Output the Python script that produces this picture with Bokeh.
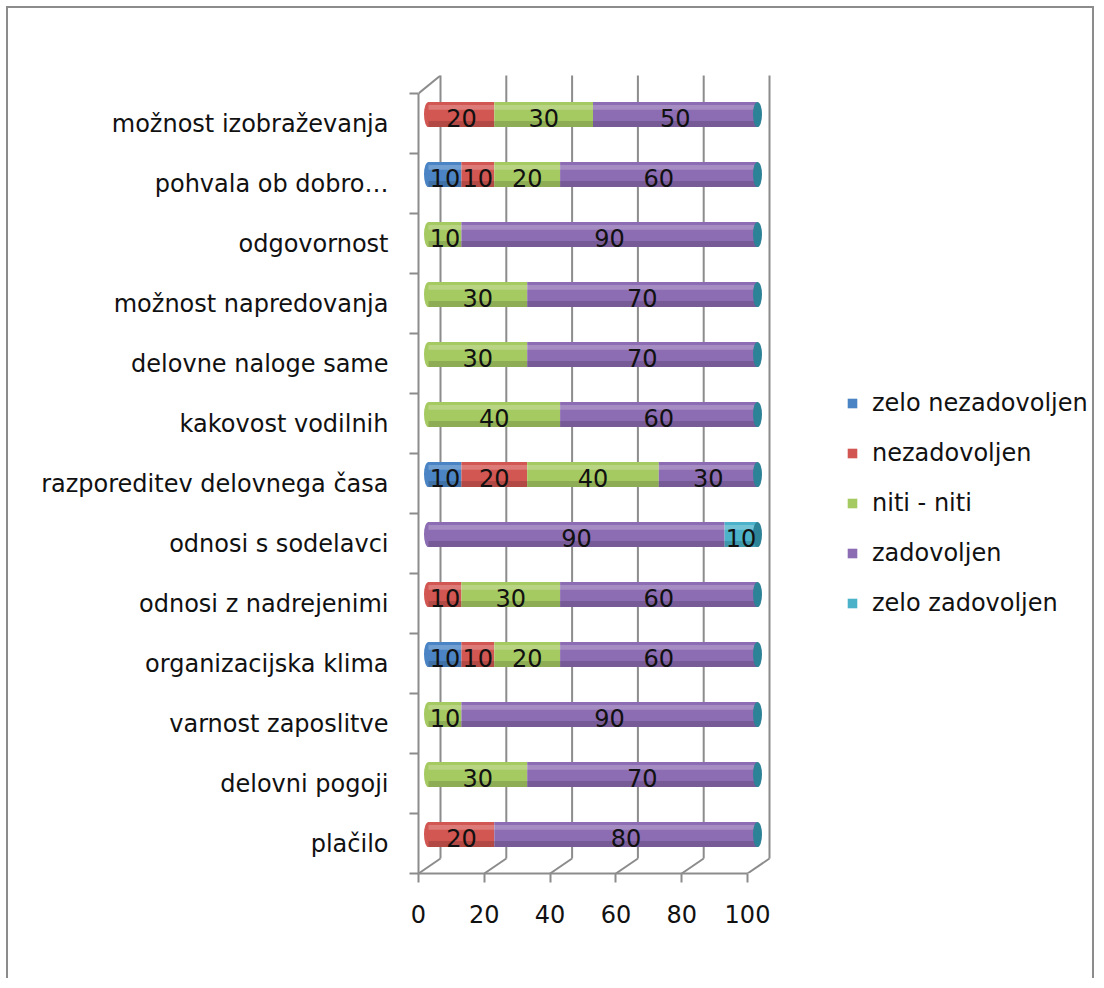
from bokeh.plotting import figure
from bokeh.models import Range1d, FixedTicker, Legend, LegendItem
from bokeh.core.properties import value
from bokeh.embed import file_html
from bokeh.resources import INLINE

# ---------------- data ----------------
categories = ["plačilo", "delovni pogoji", "varnost zaposlitve", "organizacijska klima",
              "odnosi z nadrejenimi", "odnosi s sodelavci", "razporeditev delovnega časa",
              "kakovost vodilnih", "delovne naloge same", "možnost napredovanja",
              "odgovornost", "pohvala ob dobro…", "možnost izobraževanja"]
series_names = ["zelo nezadovoljen", "nezadovoljen", "niti - niti", "zadovoljen", "zelo zadovoljen"]
zelo_nezadovoljen = [0, 0, 0, 10, 0, 0, 10, 0, 0, 0, 0, 10, 0]
nezadovoljen = [20, 0, 0, 10, 10, 0, 20, 0, 0, 0, 0, 10, 20]
niti_niti = [0, 30, 10, 20, 30, 0, 40, 40, 30, 30, 10, 20, 30]
zadovoljen = [80, 70, 90, 60, 60, 90, 30, 60, 70, 70, 90, 60, 50]
zelo_zadovoljen = [0, 0, 0, 0, 0, 10, 0, 0, 0, 0, 0, 0, 0]
x_ticks = [0, 20, 40, 60, 80, 100]

series_values = [zelo_nezadovoljen, nezadovoljen, niti_niti, zadovoljen, zelo_zadovoljen]
colors = ["#4A84C4", "#D25651", "#A6CA62", "#8C6CB2", "#4BB2CA"]
CAP = "#2C8296"
GRID = "#8C8C8C"
FONT = "DejaVu Sans"
FS = "24px"

n = len(categories)
idx = list(range(n))

# ---------------- figure ----------------
W, H = 1088, 972
MB_L, MB_R = 410, 2
PX = 3.29            # pixels per x unit
FW = W - MB_L - MB_R
XEND = FW / PX
DX = 22 / PX         # 3D depth offset (x units)
p = figure(width=W, height=H, output_backend="svg", toolbar_location=None,
           x_range=Range1d(0, XEND), y_range=Range1d(-0.5, 12.8),
           min_border_left=MB_L, min_border_top=67, min_border_bottom=107, min_border_right=MB_R)
p.margin = (6, 6, 6, 6)
p.extra_x_ranges = {"bar": Range1d(-10 / PX, XEND - 10 / PX),
                    "back": Range1d(-DX, XEND - DX)}
p.extra_y_ranges = {"bar": Range1d(-0.65, 12.65),
                    "back": Range1d(-0.75, 12.55)}
p.styles = {"border-top": "2px solid #8c8c8c", "border-left": "2px solid #8c8c8c",
            "border-right": "2px solid #8c8c8c", "border-bottom": "none"}
p.outline_line_color = None
p.xgrid.visible = False
p.ygrid.visible = False
p.background_fill_color = "white"

# back wall gridlines
p.segment(x0=x_ticks, y0=[-0.5] * len(x_ticks), x1=x_ticks, y1=[13] * len(x_ticks),
          x_range_name="back", y_range_name="back", line_color=GRID, line_width=2)
# floor diagonals
p.segment(x0=x_ticks, y0=[-0.5] * len(x_ticks), x1=[t + DX for t in x_ticks],
          y1=[-0.25] * len(x_ticks), line_color=GRID, line_width=2)
# left wall top edge
p.segment(x0=[0], y0=[12.5], x1=[DX], y1=[12.8], line_color=GRID, line_width=2)

# left rounded ends
first_color = []
for i in idx:
    c = colors[3]
    for k in range(5):
        if series_values[k][i] > 0:
            c = colors[k]
            break
    first_color.append(c)
BH = 0.42
p.ellipse(x=[0] * n, y=idx, width=9, height=BH, width_units="screen",
          fill_color=first_color, line_color=None, x_range_name="bar", y_range_name="bar")

# stacked bars
renderers = []
lefts = [0] * n
label_x, label_y, label_t = [], [], []
for k in range(5):
    vals = series_values[k]
    rights = [lefts[i] + vals[i] for i in idx]
    r = p.hbar(y=idx, left=lefts, right=rights, height=BH, fill_color=colors[k],
               line_color=None, x_range_name="bar", y_range_name="bar")
    renderers.append(r)
    for i in idx:
        if vals[i] > 0:
            label_x.append(lefts[i] + vals[i] / 2)
            label_y.append(i)
            label_t.append(str(vals[i]))
    lefts = rights

totals = lefts
# cylinder shading
p.hbar(y=[i + 0.12 for i in idx], left=[0] * n, right=totals, height=0.08,
       fill_color="white", fill_alpha=0.22, line_color=None, x_range_name="bar", y_range_name="bar")
p.hbar(y=[i - 0.16 for i in idx], left=[0] * n, right=totals, height=0.1,
       fill_color="black", fill_alpha=0.15, line_color=None, x_range_name="bar", y_range_name="bar")
# right end caps
p.ellipse(x=totals, y=idx, width=9, height=BH, width_units="screen",
          fill_color=CAP, line_color=None, x_range_name="bar", y_range_name="bar")

# data labels
p.text(x=label_x, y=label_y, text=label_t, x_range_name="bar", y_range_name="bar",
       text_align="center", text_baseline="middle", y_offset=3,
       text_font=value(FONT), text_font_size=FS, text_color="#111111")

# axes
xa = p.xaxis[0]
xa.ticker = FixedTicker(ticks=x_ticks)
xa.bounds = (0, 100)
xa.axis_line_color = GRID
xa.axis_line_width = 2
xa.major_tick_line_color = GRID
xa.major_tick_line_width = 2
xa.major_tick_out = 9
xa.major_tick_in = 0
xa.minor_tick_out = 0
xa.minor_tick_in = 0
xa.major_label_text_font = FONT
xa.major_label_text_font_size = FS
xa.major_label_text_color = "#111111"
xa.major_label_standoff = 22

ya = p.yaxis[0]
ya.ticker = FixedTicker(ticks=idx, minor_ticks=[i - 0.5 for i in range(n + 1)])
ya.bounds = (-0.5, n - 0.5)
ya.axis_line_color = GRID
ya.axis_line_width = 2
ya.major_tick_out = 0
ya.major_tick_in = 0
ya.minor_tick_out = 9
ya.minor_tick_in = 0
ya.minor_tick_line_color = GRID
ya.minor_tick_line_width = 2
ya.major_label_overrides = {i: categories[i] for i in idx}
ya.major_label_text_font = FONT
ya.major_label_text_font_size = FS
ya.major_label_text_color = "#111111"
ya.major_label_standoff = 21

# legend
items = [LegendItem(label=series_names[k], renderers=[renderers[k]]) for k in range(5)]
legend = Legend(items=items, location=(428, 256), padding=0, margin=0,
                border_line_color=None, background_fill_alpha=0,
                glyph_width=12, glyph_height=12, label_standoff=14, spacing=22,
                label_height=24, label_text_font=FONT, label_text_font_size=FS,
                label_text_color="#111111")
p.add_layout(legend)

open("out.html", "w").write(file_html(p, INLINE))
